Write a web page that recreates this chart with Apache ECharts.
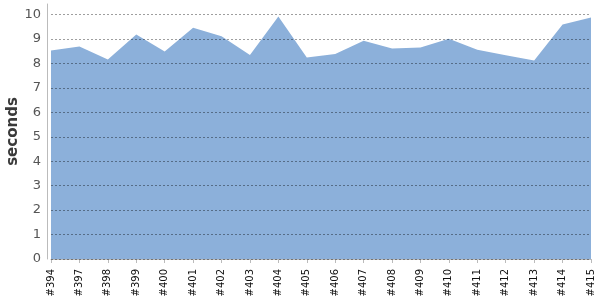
<!DOCTYPE html>
<html><head><meta charset="utf-8">
<script src="https://cdn.jsdelivr.net/npm/echarts@6/dist/echarts.min.js"></script>
<style>html,body{margin:0;padding:0;background:#fff}#c{width:600px;height:300px}</style>
</head><body><div id="c"></div>
<script>
var categories = ['#394','#397','#398','#399','#400','#401','#402','#403','#404','#405','#406','#407','#408','#409','#410','#411','#412','#413','#414','#415'];
var seconds = [8.53, 8.69, 8.16, 9.18, 8.49, 9.46, 9.11, 8.34, 9.92, 8.24, 8.38, 8.93, 8.61, 8.65, 9.01, 8.56, 8.33, 8.12, 9.59, 9.88];
var yTicks = [0,1,2,3,4,5,6,7,8,9,10];

var chart = echarts.init(document.getElementById('c'), null, {renderer:'canvas'});
chart.setOption({
  animation: false,
  grid: {left: 51, right: 9, top: 4, bottom: 41, containLabel: false, outerBoundsMode: 'none'},
  xAxis: {
    type: 'category', data: categories, boundaryGap: false, offset: 4,
    axisLine: {lineStyle: {color: '#bbb', width: 1}},
    axisTick: {alignWithLabel: true, length: 4, lineStyle: {color: '#bbb'}},
    axisLabel: {rotate: 90, fontSize: 10, color: '#111', fontFamily: 'DejaVu Sans', margin: 6, interval: 0}
  },
  yAxis: {
    type: 'value', min: 0, max: 10.43, interval: 1, offset: 4, z: 5,
    name: 'seconds', nameLocation: 'middle', nameGap: 26, nameRotate: 90, nameMoveOverlap: false,
    nameTextStyle: {fontSize: 15, fontWeight: 'bold', color: '#3a3a3a', fontFamily: 'DejaVu Sans'},
    axisLine: {show: true, lineStyle: {color: '#bbb'}},
    axisTick: {show: false},
    axisLabel: {fontSize: 13, color: '#555', fontFamily: 'DejaVu Sans', margin: 6,
      formatter: function(v){ return yTicks.indexOf(v) >= 0 ? String(v) : ''; }},
    splitLine: {show: true, showMaxLine: false, lineStyle: {color: 'rgba(0,0,0,0.38)', type: [2,2], width: 1}}
  },
  series: [{
    type: 'line', data: seconds, symbol: 'none', z: 2,
    lineStyle: {width: 0},
    areaStyle: {color: '#8CB0DA', opacity: 1}
  }]
});
</script></body></html>
